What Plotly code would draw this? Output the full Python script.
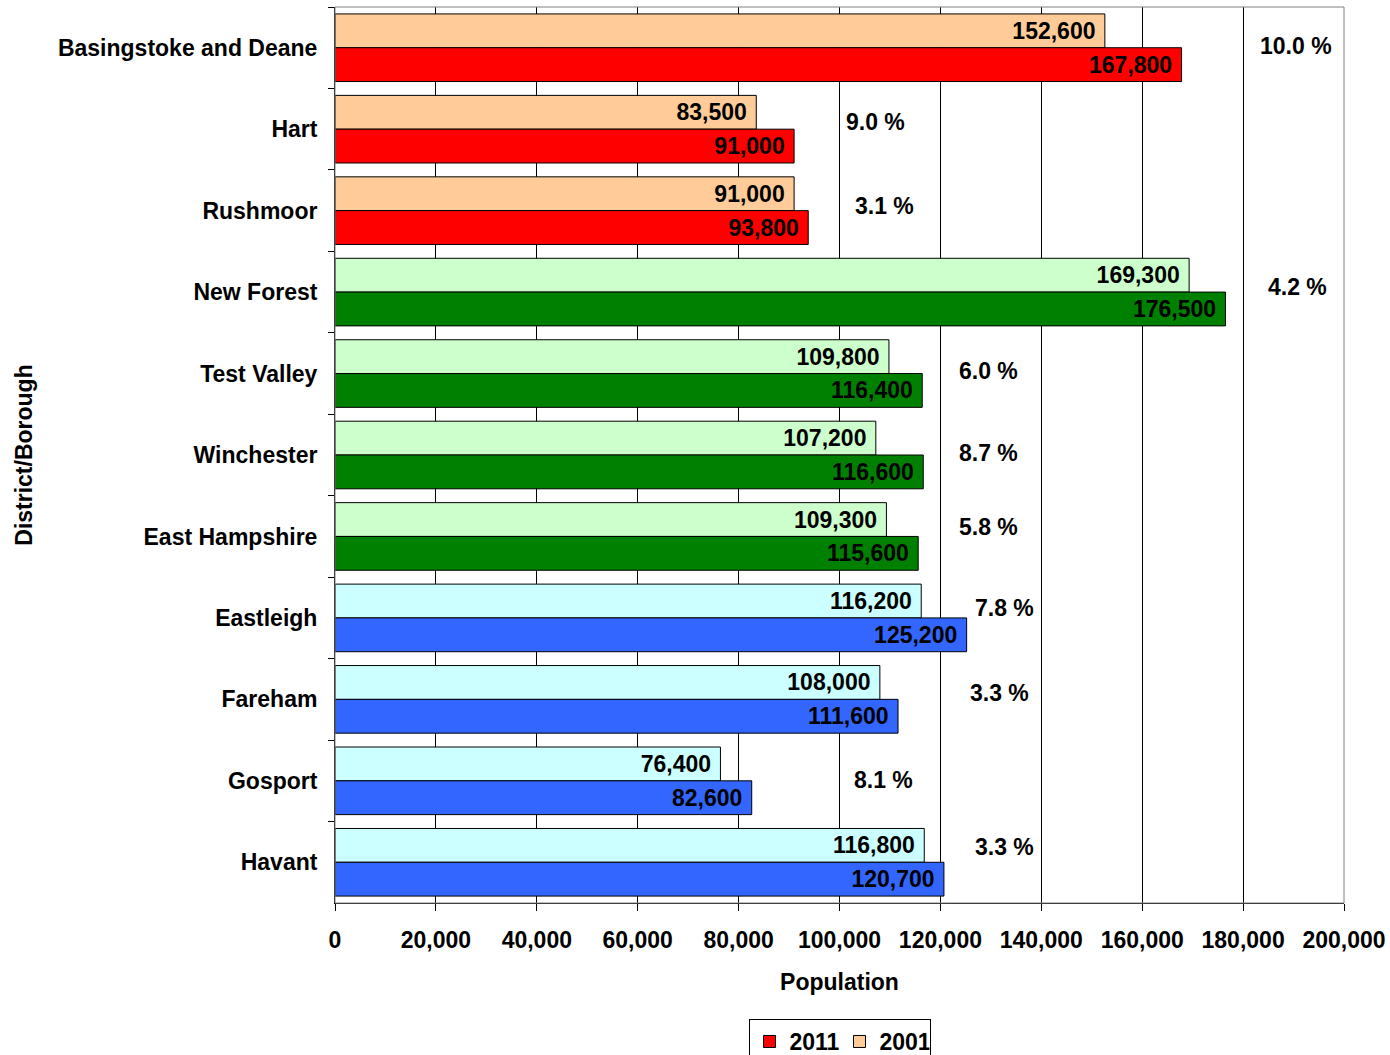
import plotly.graph_objects as go

districts = ["Basingstoke and Deane", "Hart", "Rushmoor", "New Forest", "Test Valley",
             "Winchester", "East Hampshire", "Eastleigh", "Fareham", "Gosport", "Havant"]
pop_2001 = [152600, 83500, 91000, 169300, 109800, 107200, 109300, 116200, 108000, 76400, 116800]
pop_2011 = [167800, 91000, 93800, 176500, 116400, 116600, 115600, 125200, 111600, 82600, 120700]
growth_labels = ["10.0 %", "9.0 %", "3.1 %", "4.2 %", "6.0 %", "8.7 %", "5.8 %",
                 "7.8 %", "3.3 %", "8.1 %", "3.3 %"]
x_ticks = [0, 20000, 40000, 60000, 80000, 100000, 120000, 140000, 160000, 180000, 200000]

# styling
groups = ["red"] * 3 + ["green"] * 4 + ["blue"] * 4
light = {"red": "#FFCC99", "green": "#CCFFCC", "blue": "#CCFFFF"}
dark = {"red": "#FF0000", "green": "#008000", "blue": "#3366FF"}
label_x = [190500, 107200, 109000, 190700, 129600, 129600, 129600, 132800, 131800, 108800, 132800]
label_yshift = [2, 7, 5, 5, 3, 2, 9, 10, 6, 1, 15]

FONT = "Liberation Sans, Arial, sans-serif"
FS = 23
PAD = "\u00a0"

fig = go.Figure()
fig.add_trace(go.Bar(
    y=districts, x=pop_2001, orientation="h", name="2001",
    marker=dict(color=[light[g] for g in groups], line=dict(color="black", width=1)),
    text=[f"{v:,}{PAD}" for v in pop_2001], textposition="inside", insidetextanchor="end",
    textfont=dict(color="black", size=FS, family=FONT), constraintext="none",
    legendrank=2, hoverinfo="x+y",
))
fig.add_trace(go.Bar(
    y=districts, x=pop_2011, orientation="h", name="2011",
    marker=dict(color=[dark[g] for g in groups], line=dict(color="black", width=1)),
    text=[f"{v:,}{PAD}" for v in pop_2011], textposition="inside", insidetextanchor="end",
    textfont=dict(color="black", size=FS, family=FONT), constraintext="none",
    legendrank=1, hoverinfo="x+y",
))

for d, lab, lx, ys in zip(districts, growth_labels, label_x, label_yshift):
    fig.add_annotation(x=lx, y=d, text=f"<b>{lab}</b>", showarrow=False, yshift=ys,
                       font=dict(size=FS, color="black", family=FONT),
                       xanchor="center", yanchor="middle")

fig.add_shape(type="rect", xref="paper", yref="paper", x0=0, x1=1, y0=0, y1=1,
              line=dict(color="#808080", width=1), fillcolor="rgba(0,0,0,0)", layer="above")

fig.update_layout(
    width=1390, height=1055,
    margin=dict(l=335, r=46, t=7, b=152, autoexpand=False),
    barmode="group", bargap=0.17, bargroupgap=0,
    plot_bgcolor="white", paper_bgcolor="white",
    font=dict(family=FONT, size=FS, color="black", weight="bold"),
    showlegend=True,
    legend=dict(orientation="h", x=0.5, xanchor="center", y=-0.1295, yanchor="top",
                bordercolor="black", borderwidth=1, bgcolor="white",
                font=dict(size=FS, family=FONT, color="black", weight="bold"),
                itemwidth=30, tracegroupgap=0, entrywidth=45, entrywidthmode="pixels"),
    xaxis=dict(range=[0, 200000], tickvals=x_ticks, ticktext=[f"{v:,}" for v in x_ticks],
               showgrid=True, gridcolor="black", gridwidth=1,
               showline=True, linecolor="black", linewidth=1, automargin=False,
               ticks="outside", ticklen=7, tickcolor="black", ticklabelstandoff=9,
               tickfont=dict(size=FS, family=FONT, weight="bold"),
               title=dict(text="<b>Population</b>", font=dict(size=FS, family=FONT), standoff=22),
               zeroline=False),
    yaxis=dict(autorange="reversed", showline=True, linecolor="black", linewidth=1,
               ticks="outside", ticklen=6, tickcolor="black", tickson="boundaries",
               ticklabelstandoff=12, automargin=False,
               tickfont=dict(size=FS, family=FONT, weight="bold"),
               title=dict(text="<b>District/Borough</b>", font=dict(size=FS, family=FONT), standoff=18),
               showgrid=False),
)

fig.write_html("out.html", config={"displayModeBar": False},
               post_script="document.body.style.margin='0';document.body.style.overflow='hidden';")
